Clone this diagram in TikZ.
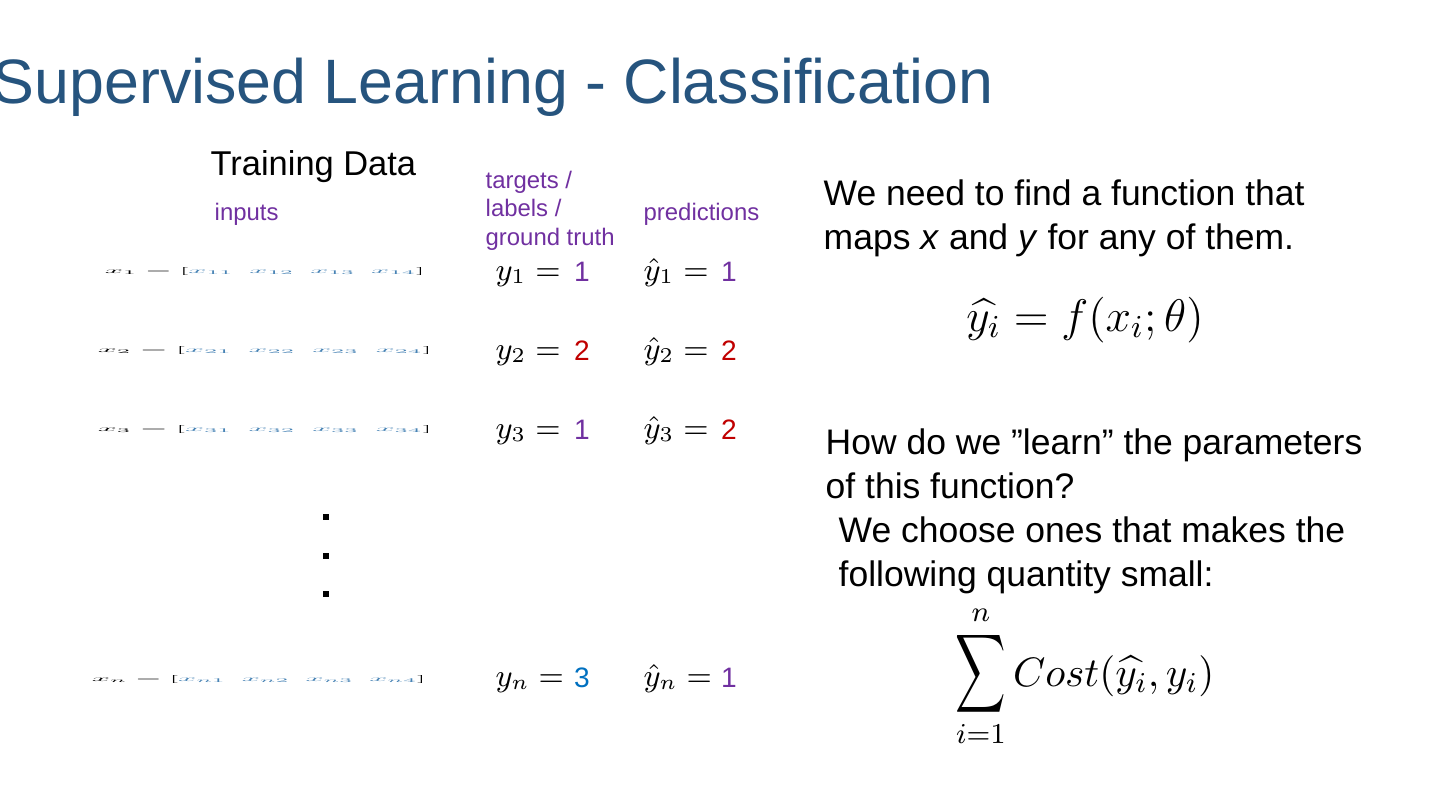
\documentclass[tikz,border=0pt]{standalone}
\usepackage{fix-cm}
\usepackage{amsmath,graphicx}
\usepackage{fontspec}
\setmainfont{Liberation Sans}
\usetikzlibrary{positioning}
\definecolor{slideblue}{RGB}{38,84,126}
\definecolor{labelpurple}{RGB}{112,48,160}
\definecolor{valred}{RGB}{192,0,0}
\definecolor{valblue}{RGB}{0,112,192}
\definecolor{vecblue}{RGB}{70,130,180}
\tikzset{
  slidetitle/.style={anchor=base west, inner sep=0pt, text=slideblue, font=\fontsize{17.85}{21}\selectfont},
  headtext/.style={anchor=base west, inner sep=0pt, font=\fontsize{9.8}{12}\selectfont},
  coltext/.style={anchor=base west, inner sep=0pt, text=labelpurple, align=left, font=\fontsize{6.8}{8.1}\selectfont},
  bodytext/.style={anchor=base west, inner sep=0pt, align=left, font=\fontsize{10.1}{12.5}\selectfont},
  vecrow/.style={inner sep=0pt},
  eqtext/.style={anchor=base west, inner sep=0pt, font=\fontsize{9}{11}\selectfont},
  valtext/.style={anchor=base, inner sep=0pt, font=\fontsize{8}{10}\selectfont},
  dotmark/.style={fill=black, minimum size=1.5pt, inner sep=0pt},
  bigeq/.style={inner sep=0pt, font=\fontsize{13}{15}\selectfont},
  sumeq/.style={inner sep=0pt, font=\fontsize{11.7}{14}\selectfont}
}
\newcommand{\featrow}[2]{\resizebox{#2}{0.06cm}{$x_{#1} = [\textcolor{vecblue}{x_{#11}}\enspace\textcolor{vecblue}{x_{#12}}\enspace\textcolor{vecblue}{x_{#13}}\enspace\textcolor{vecblue}{x_{#14}}]$}}
\newcommand{\tallsum}{\mathop{\scalebox{0.83}[1.3]{$\displaystyle\sum$}}\limits}

\begin{document}
\begin{tikzpicture}
  \useasboundingbox (0,0) rectangle (14.4,-8.1);
  \node[slidetitle] (title) at (-0.08,-1.03) {Supervised Learning - Classification};

  % column heads
  \node[headtext] (train) at (2.10,-1.75) {Training Data};
  \node[coltext] (inlab) at (2.14,-2.20) {inputs};
  \node[coltext] (tgtlab) at (4.85,-2.45) {targets /\\labels /\\ground truth};
  \node[coltext] (predlab) at (6.43,-2.20) {predictions};

  % rows
  \node[vecrow] (in1) at (2.65,-2.71) {\featrow{1}{3.2cm}};
  \node[eqtext] (tgt1) at (4.95,-2.80) {$y_1 =$};
  \node[valtext, text=labelpurple] (tv1) at (5.82,-2.81) {1};
  \node[eqtext] (pred1) at (6.43,-2.80) {$\hat{y}_1 =$};
  \node[valtext, text=labelpurple] (pv1) at (7.29,-2.81) {1};

  \node[vecrow] (in2) at (2.65,-3.50) {\featrow{2}{3.34cm}};
  \node[eqtext] (tgt2) at (4.95,-3.59) {$y_2 =$};
  \node[valtext, text=valred] (tv2) at (5.82,-3.60) {2};
  \node[eqtext] (pred2) at (6.43,-3.59) {$\hat{y}_2 =$};
  \node[valtext, text=valred] (pv2) at (7.29,-3.60) {2};

  \node[vecrow] (in3) at (2.65,-4.29) {\featrow{3}{3.34cm}};
  \node[eqtext] (tgt3) at (4.95,-4.38) {$y_3 =$};
  \node[valtext, text=labelpurple] (tv3) at (5.82,-4.39) {1};
  \node[eqtext] (pred3) at (6.43,-4.38) {$\hat{y}_3 =$};
  \node[valtext, text=valred] (pv3) at (7.29,-4.39) {2};

  \node[dotmark] (dot1) at (3.26,-5.17) {};
  \node[dotmark] (dot2) at (3.26,-5.56) {};
  \node[dotmark] (dot3) at (3.26,-5.94) {};

  \node[vecrow] (inn) at (2.59,-6.79) {\featrow{n}{3.34cm}};
  \node[eqtext] (tgtn) at (4.95,-6.86) {$y_n =$};
  \node[valtext, text=valblue] (tvn) at (5.82,-6.87) {3};
  \node[eqtext] (predn) at (6.43,-6.86) {$\hat{y}_n =$};
  \node[valtext, text=labelpurple] (pvn) at (7.29,-6.87) {1};

  % right side
  \node[bodytext] (need) at (8.23,-2.49) {We need to find a function that\\maps \textit{x} and \textit{y} for any of them.};
  \node[bigeq, anchor=base] (fmap) at (10.85,-3.31) {$\widehat{y_i} = f(x_i;\theta)$};
  \node[bodytext] (learn) at (8.25,-4.98) {How do we ”learn” the parameters\\of this function?};
  \node[bodytext] (choose) at (8.38,-5.86) {We choose ones that makes the\\following quantity small:};
  \node[sumeq] (costsum) at (10.85,-6.76) {$\displaystyle\tallsum_{i=1}^{n}\mathnormal{Cost}(\widehat{y_i},y_i)$};
\end{tikzpicture}
\end{document}
